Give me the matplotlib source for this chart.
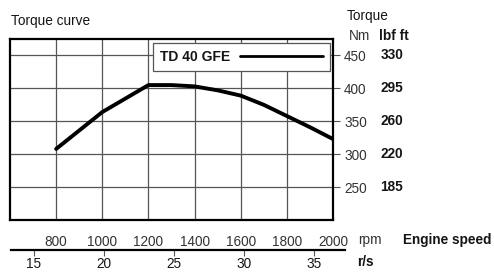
import matplotlib
matplotlib.use("Agg")
import matplotlib.pyplot as plt

plt.rcParams['font.family'] = ['Liberation Sans', 'DejaVu Sans']

# torque curve
rpm = [800, 1000, 1200, 1300, 1400, 1500, 1600, 1700, 1800, 1900, 2000]
torque_nm = [308, 364, 405, 405, 403, 397, 389, 375, 358, 341, 323]

rpm_ticks = [800, 1000, 1200, 1400, 1600, 1800, 2000]
nm_ticks = [250, 300, 350, 400, 450]
lbf_labels = ['185', '220', '260', '295', '330']
rs_ticks = [15, 20, 25, 30, 35]
series_name = 'TD 40 GFE'

W, H = 494, 272
fig = plt.figure(figsize=(W / 100, H / 100), dpi=100)

def px(x0, y0, x1, y1):
    # pixel box (top-left origin) -> figure fraction rect
    return [x0 / W, 1 - y1 / H, (x1 - x0) / W, (y1 - y0) / H]

txt = '#333333'
dark = '#151515'
fs = 9.8

# main plot
ax = fig.add_axes(px(10, 39, 333, 220))
ax.set_xlim(600, 2000)
ax.set_ylim(200, 475)
ax.plot(rpm, torque_nm, color='black', lw=2.8, solid_capstyle='round',
        label=series_name, zorder=3)
ax.set_xticks(rpm_ticks)
ax.set_xticklabels([str(v) for v in rpm_ticks], color=txt, fontsize=fs)
ax.tick_params(axis='x', length=0, pad=11)
ax.yaxis.tick_right()
ax.set_yticks(nm_ticks)
ax.set_yticklabels([str(v) for v in nm_ticks], color=txt, fontsize=fs)
ax.tick_params(axis='y', right=True, length=5, width=0.8, pad=3, color='#555555')
ax.grid(True, color='#555555', lw=0.9)
for s in ax.spines.values():
    s.set_linewidth(1.6)
    s.set_color('black')

# lbf ft column
for v, lab in zip(nm_ticks, lbf_labels):
    ax.text(1.146, v, lab, transform=ax.get_yaxis_transform(), ha='left',
            va='center', fontsize=fs, fontweight='bold', color=dark)

leg = ax.legend(loc='upper right', bbox_to_anchor=(0.991, 0.978),
                borderaxespad=0, markerfirst=False, handlelength=6.0,
                fancybox=False, framealpha=1, edgecolor='#555555',
                prop={'weight': 'bold', 'size': 10}, borderpad=0.5,
                handletextpad=0.7)
leg.get_frame().set_linewidth(0.9)
for t in leg.get_texts():
    t.set_color(dark)
for h in leg.get_lines():
    h.set_linewidth(2.0)

# r/s scale below
ax2 = fig.add_axes(px(11, 249, 345, 249.5))
ax2.set_xlim(13.36, 37.2)
ax2.set_ylim(0, 1)
ax2.set_yticks([])
for name in ['top', 'left', 'right']:
    ax2.spines[name].set_visible(False)
ax2.spines['bottom'].set_linewidth(1.6)
ax2.patch.set_visible(False)
ax2.set_xticks(rs_ticks)
ax2.set_xticklabels([str(v) for v in rs_ticks], color=dark, fontsize=fs)
ax2.tick_params(axis='x', direction='out', length=4, width=0.8, pad=1.5,
                color='#555555')

# headings
fig.text(11 / W, 1 - 21 / H, 'Torque curve', ha='left', va='center',
         fontsize=fs, color=dark)
fig.text(347 / W, 1 - 16 / H, 'Torque', ha='left', va='center',
         fontsize=fs, color=dark)
fig.text(349 / W, 1 - 36 / H, 'Nm', ha='left', va='center',
         fontsize=fs, color=txt)
fig.text(379 / W, 1 - 36 / H, 'lbf ft', ha='left', va='center',
         fontsize=fs, fontweight='bold', color=dark)
fig.text(358 / W, 1 - 240 / H, 'rpm', ha='left', va='center',
         fontsize=fs, color=txt)
fig.text(403 / W, 1 - 240 / H, 'Engine speed', ha='left', va='center',
         fontsize=fs, fontweight='bold', color=dark)
fig.text(357 / W, 1 - 262 / H, 'r/s', ha='left', va='center',
         fontsize=fs, fontweight='bold', color=dark)

fig.savefig('out.png', dpi=100)
